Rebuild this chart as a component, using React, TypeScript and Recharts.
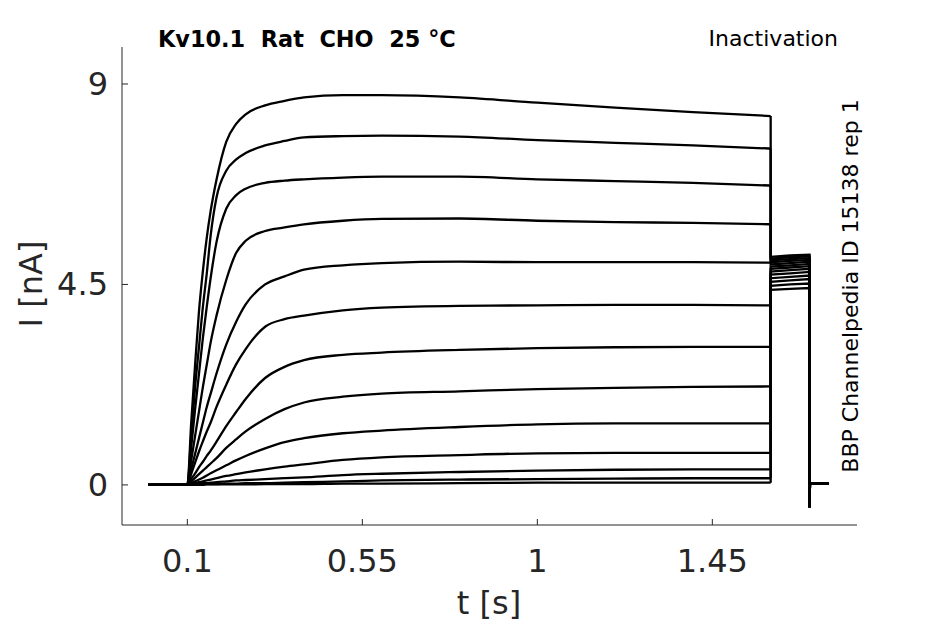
import { LineChart, Line, XAxis, YAxis } from 'recharts';

// sample times [s]; repeated times give the vertical steps at 1.6 s and 1.7 s
const times = [0, 0.1, 0.11, 0.12, 0.13, 0.14, 0.15, 0.16, 0.175, 0.2, 0.225, 0.25, 0.3, 0.35, 0.4, 0.5, 0.6, 0.8, 1.0, 1.2, 1.4, 1.6, 1.6, 1.65, 1.7, 1.7, 1.701, 1.75];
// index where the test pulse ends (first point at 1.6 s)
const stepEnd = 21;

// current [nA] per sweep
const sweep01 = [0, 0, 1.4, 2.7, 3.9, 4.8, 5.55, 6.15, 6.85, 7.7, 8.1, 8.32, 8.52, 8.62, 8.7, 8.75, 8.75, 8.7, 8.58, 8.47, 8.37, 8.28, 5.12, 5.15, 5.17, -0.5, 0.03, 0.03];
const sweep02 = [0, 0, 1.1, 2.2, 3.1, 4.0, 4.75, 5.6, 6.45, 7.05, 7.3, 7.45, 7.62, 7.72, 7.8, 7.83, 7.84, 7.82, 7.74, 7.68, 7.62, 7.55, 5.08, 5.11, 5.13, -0.5, 0.03, 0.03];
const sweep03 = [0, 0, 0.85, 1.7, 2.5, 3.3, 4.0, 4.65, 5.45, 6.2, 6.5, 6.65, 6.78, 6.83, 6.86, 6.9, 6.92, 6.92, 6.86, 6.82, 6.78, 6.72, 5.04, 5.07, 5.09, -0.5, 0.03, 0.03];
const sweep04 = [0, 0, 0.55, 1.1, 1.65, 2.2, 2.7, 3.2, 3.8, 4.6, 5.2, 5.48, 5.7, 5.78, 5.85, 5.93, 5.97, 5.98, 5.93, 5.9, 5.88, 5.85, 5.0, 5.03, 5.05, -0.5, 0.03, 0.03];
const sweep05 = [0, 0, 0.35, 0.7, 1.05, 1.4, 1.75, 2.05, 2.5, 3.15, 3.65, 4.05, 4.5, 4.68, 4.83, 4.93, 4.98, 5.01, 5.0, 5.0, 5.0, 4.99, 4.95, 4.98, 5.01, -0.5, 0.03, 0.03];
const sweep06 = [0, 0, 0.25, 0.5, 0.75, 0.98, 1.2, 1.4, 1.75, 2.25, 2.7, 3.05, 3.55, 3.72, 3.8, 3.92, 3.98, 4.02, 4.03, 4.04, 4.04, 4.03, 4.9, 4.93, 4.96, -0.5, 0.03, 0.03];
const sweep07 = [0, 0, 0.13, 0.26, 0.4, 0.52, 0.65, 0.77, 0.97, 1.32, 1.63, 1.93, 2.4, 2.65, 2.8, 2.92, 2.97, 3.03, 3.07, 3.09, 3.1, 3.1, 4.85, 4.88, 4.91, -0.5, 0.03, 0.03];
const sweep08 = [0, 0, 0.08, 0.16, 0.24, 0.32, 0.4, 0.48, 0.6, 0.83, 1.02, 1.2, 1.48, 1.7, 1.85, 1.98, 2.05, 2.1, 2.15, 2.18, 2.2, 2.21, 4.79, 4.82, 4.85, -0.5, 0.03, 0.03];
const sweep09 = [0, 0, 0.04, 0.08, 0.12, 0.16, 0.21, 0.26, 0.33, 0.44, 0.55, 0.65, 0.82, 0.96, 1.05, 1.16, 1.22, 1.3, 1.36, 1.38, 1.38, 1.38, 4.72, 4.75, 4.78, -0.5, 0.03, 0.03];
const sweep10 = [0, 0, 0.02, 0.04, 0.06, 0.08, 0.1, 0.12, 0.15, 0.2, 0.24, 0.28, 0.35, 0.41, 0.46, 0.56, 0.62, 0.67, 0.71, 0.72, 0.72, 0.72, 4.64, 4.67, 4.7, -0.5, 0.03, 0.03];
const sweep11 = [0, 0, 0.01, 0.02, 0.03, 0.04, 0.04, 0.05, 0.06, 0.08, 0.1, 0.11, 0.13, 0.15, 0.17, 0.22, 0.25, 0.29, 0.32, 0.34, 0.35, 0.35, 4.56, 4.59, 4.62, -0.5, 0.03, 0.03];
const sweep12 = [0, 0, 0, 0.01, 0.01, 0.01, 0.02, 0.02, 0.02, 0.03, 0.03, 0.04, 0.04, 0.05, 0.06, 0.08, 0.1, 0.12, 0.13, 0.14, 0.15, 0.15, 4.47, 4.5, 4.52, -0.5, 0.03, 0.03];
const sweep13 = [0, 0, 0, 0, 0, 0, 0.01, 0.01, 0.01, 0.01, 0.01, 0.01, 0.02, 0.02, 0.02, 0.03, 0.03, 0.04, 0.05, 0.05, 0.05, 0.05, 4.38, 4.4, 4.42, -0.5, 0.03, 0.03];

const sweeps = [sweep01, sweep02, sweep03, sweep04, sweep05, sweep06, sweep07, sweep08, sweep09, sweep10, sweep11, sweep12, sweep13];

const xTicks = [0.1, 0.55, 1, 1.45];
const yTicks = [0, 4.5, 9];

const FONT = '"DejaVu Sans", sans-serif';
const AXIS = '#262626';

// MATLAB-style ticks point into the plot box
const XTick = (p: any) => (
  <g>
    <line x1={p.x} x2={p.x} y1={525} y2={519} stroke={AXIS} strokeWidth={1} />
    <text x={p.x} y={572} textAnchor="middle" fill={AXIS} fontSize={32} fontFamily={FONT}>
      {String(p.payload.value)}
    </text>
  </g>
);

const YTick = (p: any) => (
  <g>
    <line x1={122} x2={128} y1={p.y} y2={p.y} stroke={AXIS} strokeWidth={1} />
    <text x={108} y={p.y} dy={11} textAnchor="end" fill={AXIS} fontSize={32} fontFamily={FONT}>
      {String(p.payload.value)}
    </text>
  </g>
);

export default function App() {
  const series = sweeps.map(vals => times.map((t, i) => ({ t, v: vals[i] })));

  return (
    <div style={{ position: 'absolute', left: 0, top: 0, width: 945, height: 624, background: '#fff' }}>
      <LineChart width={945} height={624} margin={{ top: 47, right: 88, bottom: 0, left: 0 }}>
        <XAxis
          dataKey="t"
          type="number"
          domain={[-0.068, 1.822]}
          ticks={xTicks}
          allowDataOverflow
          height={99}
          stroke={AXIS}
          tickLine={false}
          tick={<XTick />}
        />
        <YAxis
          type="number"
          domain={[-0.9, 9.83]}
          ticks={yTicks}
          allowDataOverflow
          width={122}
          stroke={AXIS}
          tickLine={false}
          tick={<YTick />}
        />
        {/* test pulse: smooth activation */}
        {series.map((d, i) => (
          <Line
            key={`a${i}`}
            data={d.slice(0, stepEnd + 1)}
            dataKey="v"
            type="monotoneX"
            stroke="#000"
            strokeWidth={2.3}
            dot={false}
            activeDot={false}
            isAnimationActive={false}
          />
        ))}
        {/* step to tail, tail current and return */}
        {series.map((d, i) => (
          <Line
            key={`b${i}`}
            data={d.slice(stepEnd)}
            dataKey="v"
            type="linear"
            stroke="#000"
            strokeWidth={2.3}
            dot={false}
            activeDot={false}
            isAnimationActive={false}
          />
        ))}
      </LineChart>
      <svg width={945} height={624} style={{ position: 'absolute', left: 0, top: 0, pointerEvents: 'none' }}>
        <text x={158} y={47} fontSize={22.4} fontWeight="bold" fontFamily={FONT} fill="#000" style={{ whiteSpace: 'pre' }}>
          Kv10.1  Rat  CHO  25 °C
        </text>
        <text x={838} y={46} fontSize={22} textAnchor="end" fontFamily={FONT} fill="#000">
          Inactivation
        </text>
        <text x={858} y={286} fontSize={22} textAnchor="middle" fontFamily={FONT} fill="#000" transform="rotate(-90 858 286)">
          BBP Channelpedia ID 15138 rep 1
        </text>
        <text x={489} y={614} fontSize={32} textAnchor="middle" fontFamily={FONT} fill={AXIS}>
          t [s]
        </text>
        <text x={42} y={284} fontSize={32} textAnchor="middle" fontFamily={FONT} fill={AXIS} transform="rotate(-90 42 284)">
          I [nA]
        </text>
      </svg>
    </div>
  );
}
